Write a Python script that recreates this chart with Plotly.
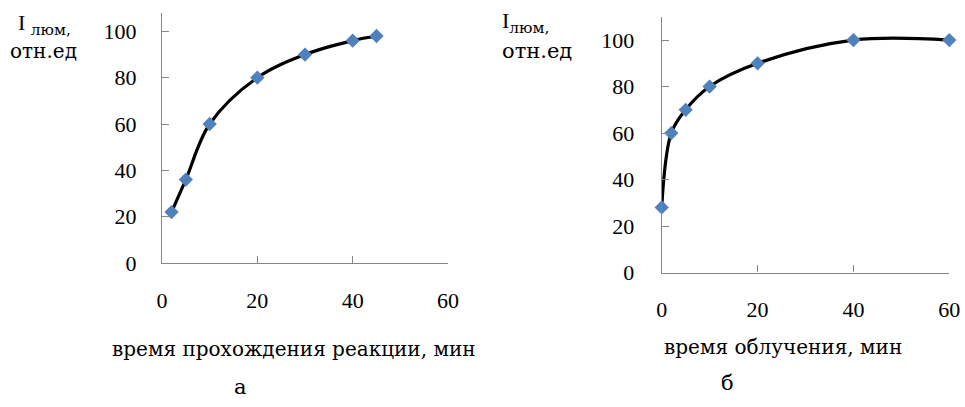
import plotly.graph_objects as go

# Chart "а": reaction time vs luminescence intensity
time_a = [2, 5, 10, 20, 30, 40, 45]
lum_a = [22, 36, 60, 80, 90, 96, 98]

# Chart "б": irradiation time vs luminescence intensity
time_b = [0, 2, 5, 10, 20, 40, 60]
lum_b = [28, 60, 70, 80, 90, 100, 100]

x_ticks = [0, 20, 40, 60]
y_ticks = [0, 20, 40, 60, 80, 100]

title_a = "время прохождения реакции, мин"
title_b = "время облучения, мин"
ylab_top = "I"
ylab_sub = "люм,"
ylab_bottom = "отн.ед"

FONT = "Liberation Serif"
CYR = "DejaVu Serif"
AXIS_COLOR = "#868686"
MARK_COLOR = "#4F81BD"

fig = go.Figure()
for xs, ys, xa, ya in [(time_a, lum_a, "x", "y"), (time_b, lum_b, "x2", "y2")]:
    fig.add_trace(go.Scatter(
        x=xs, y=ys, xaxis=xa, yaxis=ya, mode="lines+markers",
        line=dict(color="black", width=3.2, shape="spline", smoothing=1.0),
        marker=dict(symbol="diamond", size=11, color=MARK_COLOR),
        cliponaxis=False, showlegend=False,
    ))

H = 407.0
W = 965.0

def xaxis(dom, anchor, standoff):
    return dict(domain=dom, anchor=anchor, range=[0, 60], tickvals=x_ticks,
                showline=True, linecolor=AXIS_COLOR, linewidth=1.3,
                ticks="inside", ticklen=7, tickcolor=AXIS_COLOR, tickwidth=1.3,
                showgrid=False, zeroline=False, ticklabelstandoff=standoff,
                automargin=False,
                tickfont=dict(family=FONT, size=22, color="black"))

def yaxis(dom, anchor, rng, standoff):
    return dict(domain=dom, anchor=anchor, range=rng, tickvals=y_ticks,
                showline=True, linecolor=AXIS_COLOR, linewidth=1.3,
                ticks="inside", ticklen=7, tickcolor=AXIS_COLOR, tickwidth=1.3,
                showgrid=False, zeroline=False, ticklabelstandoff=standoff,
                automargin=False,
                tickfont=dict(family=FONT, size=22, color="black"))

fig.update_layout(
    width=965, height=407,
    margin=dict(l=0, r=0, t=0, b=0, autoexpand=False),
    paper_bgcolor="white", plot_bgcolor="white",
    font=dict(family=FONT, color="black"),
    hovermode=False,
    xaxis=xaxis([162 / W, 448 / W], "y", 17),
    yaxis=yaxis([1 - 263 / H, 1 - 13.3 / H], "x", [0, 107.8], 20),
    xaxis2=xaxis([661.7 / W, 949.3 / W], "y2", 17),
    yaxis2=yaxis([1 - 272.5 / H, 1 - 17.3 / H], "x2", [0, 109.8], 22),
)

def ann(text, xpx, ypx, size, xanchor="center", family=CYR):
    fig.add_annotation(text=text, x=xpx / W, y=1 - ypx / H, xref="paper", yref="paper",
                       xanchor=xanchor, yanchor="middle", showarrow=False,
                       font=dict(family=family, size=size, color="black"))

ann(title_a, 294, 349, 20)
ann(title_b, 783, 347, 20)
ann("а", 240, 387, 21)
ann("б", 727, 383, 21)

ann(ylab_top + " <span style='font-family:DejaVu Serif'><sub>" + ylab_sub + "</sub></span>",
    16, 24, 22, "left", FONT)
ann(ylab_bottom, 8, 51, 20, "left")
ann(ylab_top + "<span style='font-family:DejaVu Serif'><sub>" + ylab_sub + "</sub></span>",
    500, 22, 22, "left", FONT)
ann(ylab_bottom, 500, 51, 21, "left")

fig.write_html("out.html", config={"displayModeBar": False},
               post_script="document.body.style.margin='0';")
